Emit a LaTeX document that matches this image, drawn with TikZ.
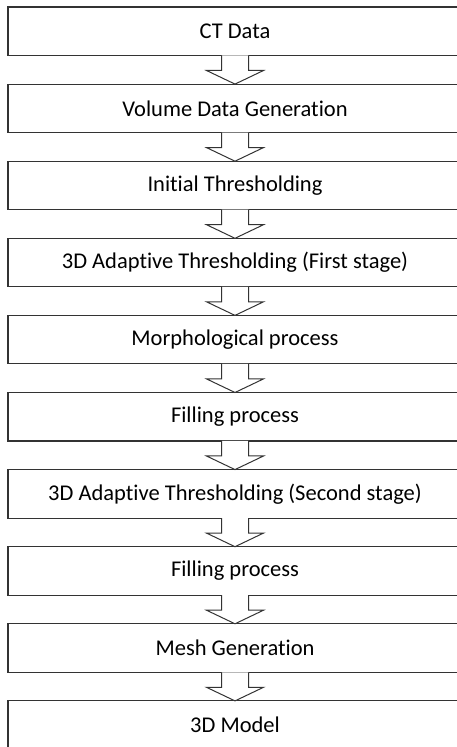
\documentclass[tikz,border=0pt]{standalone}
\usepackage{fontspec}
\setmainfont{Carlito}[Ligatures={NoCommon}]
\usetikzlibrary{positioning}

\tikzset{
  stagebox/.style={draw=black!80, line width=1.1pt, rectangle, outer sep=0pt,
    minimum width=454pt, minimum height=48.5pt, font=\fontsize{22.5}{26}\selectfont},
  flowarrow/.style={draw=black!80, line width=1pt, fill=white, line join=miter}
}

\begin{document}
\begin{tikzpicture}[x=1pt, y=1pt, node distance=28.6pt]
    % Page frame (boxes run past the right and bottom edges)
    \clip (0,0) rectangle (457,747);
    \fill[white] (0,0) rectangle (457,747);

    % Stages of the pipeline
    \node[stagebox] (ct) at (235,715.75) {CT Data};
    \node[stagebox, below=of ct] (volume) {Volume Data Generation};
    \node[stagebox, below=of volume] (initthr) {Initial Thresholding};
    \node[stagebox, below=of initthr] (adapt1) {3D Adaptive Thresholding (First stage)};
    \node[stagebox, below=of adapt1] (morph) {Morphological process};
    \node[stagebox, below=of morph] (fill1) {Filling process};
    \node[stagebox, below=of fill1] (adapt2) {3D Adaptive Thresholding (Second stage)};
    \node[stagebox, below=of adapt2] (fill2) {Filling process};
    \node[stagebox, below=of fill2] (mesh) {Mesh Generation};
    \node[stagebox, below=of mesh] (model) {3D Model};

    % Hollow block arrows between stages
    \foreach \a/\b in {ct/volume, volume/initthr, initthr/adapt1, adapt1/morph,
                       morph/fill1, fill1/adapt2, adapt2/fill2, fill2/mesh, mesh/model}
      \draw[flowarrow] ([xshift=-13.5pt]\a.south) -- ([xshift=-13.5pt,yshift=13.6pt]\b.north)
        -- ([xshift=-28.5pt,yshift=13.6pt]\b.north) -- (\b.north)
        -- ([xshift=28.5pt,yshift=13.6pt]\b.north) -- ([xshift=13.5pt,yshift=13.6pt]\b.north)
        -- ([xshift=13.5pt]\a.south);
\end{tikzpicture}
\end{document}
